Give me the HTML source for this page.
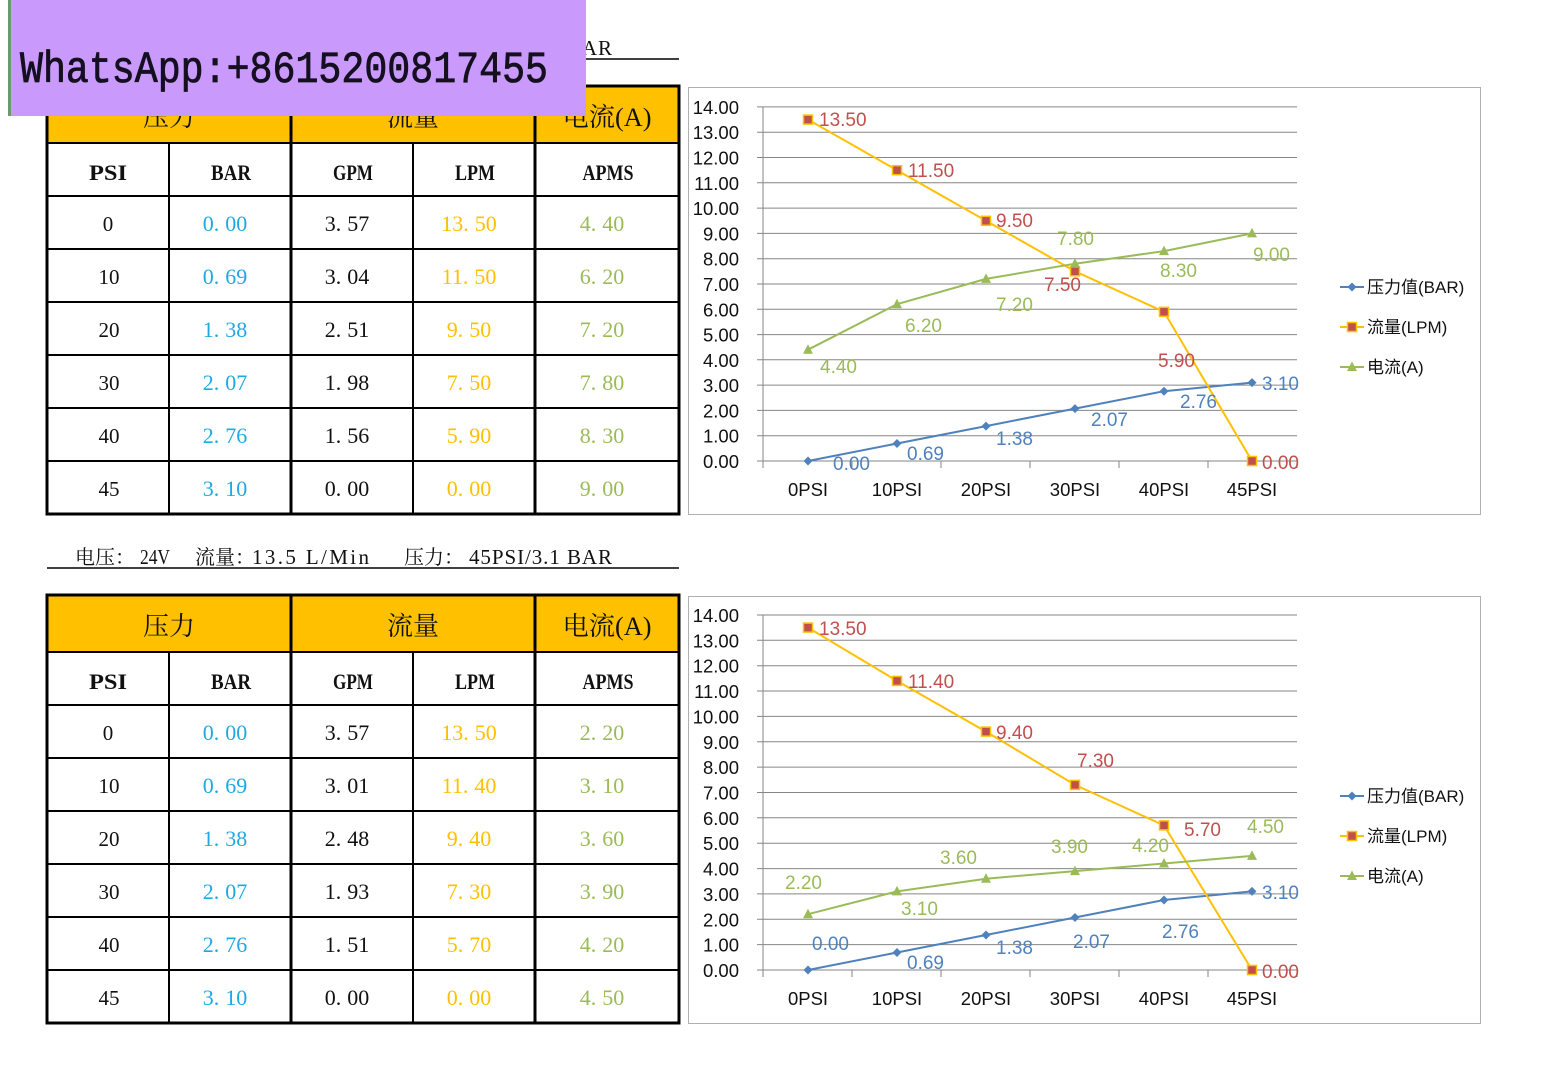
<!DOCTYPE html>
<html><head><meta charset="utf-8"><style>
html,body{margin:0;padding:0;background:#fff;}
svg{display:block;}
.t{font-family:"Liberation Serif","Noto Serif CJK SC",serif;}
.s{font-family:"Liberation Sans","Noto Sans CJK SC",sans-serif;}
</style></head><body>
<svg width="1557" height="1065" viewBox="0 0 1557 1065" xmlns="http://www.w3.org/2000/svg">
<rect x="0" y="0" width="1557" height="1065" fill="#fff"/>

<!-- ===== Section 1 header line ===== -->
<g class="t" fill="#111">
<text x="75" y="55" font-size="20">电压：</text>
<text x="140" y="55" font-size="21" textLength="30" lengthAdjust="spacingAndGlyphs">24V</text>
<text x="195" y="55" font-size="20">流量：</text>
<text x="252" y="55" font-size="21" textLength="117" lengthAdjust="spacing">13.5 L/Min</text>
<text x="404" y="55" font-size="20">压力：</text>
<text x="469" y="55" font-size="21" textLength="143" lengthAdjust="spacing">45PSI/3.1 BAR</text>
</g>
<line x1="47" y1="59" x2="679" y2="59" stroke="#000" stroke-width="1.5"/>

<!-- ===== Table 1 ===== -->
<g class="t">
<rect x="47" y="86" width="632" height="57" fill="#ffc000"/>
<g stroke="#000" stroke-width="2">
<line x1="47" y1="143" x2="679" y2="143"/>
<line x1="47" y1="196" x2="679" y2="196"/>
<line x1="47" y1="249" x2="679" y2="249"/>
<line x1="47" y1="302" x2="679" y2="302"/>
<line x1="47" y1="355" x2="679" y2="355"/>
<line x1="47" y1="408" x2="679" y2="408"/>
<line x1="47" y1="461" x2="679" y2="461"/>
<line x1="169" y1="143" x2="169" y2="514"/>
<line x1="413" y1="143" x2="413" y2="514"/>
</g>
<g stroke="#000" stroke-width="3">
<line x1="291" y1="86" x2="291" y2="514"/>
<line x1="535" y1="86" x2="535" y2="514"/>
<rect x="47" y="86" width="632" height="428" fill="none"/>
</g>
<g font-size="26" text-anchor="middle" fill="#111">
<text x="169" y="126">压力</text>
<text x="413" y="126">流量</text>
<text x="607" y="126" textLength="89" lengthAdjust="spacingAndGlyphs">电流(A)</text>
</g>
<g font-size="22" font-weight="bold" text-anchor="middle" fill="#111">
<text x="108" y="180" textLength="38" lengthAdjust="spacingAndGlyphs">PSI</text>
<text x="231" y="180" textLength="40" lengthAdjust="spacingAndGlyphs">BAR</text>
<text x="353" y="180" textLength="40" lengthAdjust="spacingAndGlyphs">GPM</text>
<text x="475" y="180" textLength="40" lengthAdjust="spacingAndGlyphs">LPM</text>
<text x="608" y="180" textLength="51" lengthAdjust="spacingAndGlyphs">APMS</text>
</g>
<g font-size="22" text-anchor="middle">
<g fill="#111" font-size="21">
<text x="108" y="231">0</text><text x="109" y="284">10</text><text x="109" y="337">20</text><text x="109" y="390">30</text><text x="109" y="443">40</text><text x="109" y="496">45</text>
</g>
<g fill="#111">
<text x="347" y="231">3.<tspan dx="6">57</tspan></text><text x="347" y="284">3.<tspan dx="6">04</tspan></text><text x="347" y="337">2.<tspan dx="6">51</tspan></text><text x="347" y="390">1.<tspan dx="6">98</tspan></text><text x="347" y="443">1.<tspan dx="6">56</tspan></text><text x="347" y="496">0.<tspan dx="6">00</tspan></text>
</g>
<g fill="#1fa9e0">
<text x="225" y="231">0.<tspan dx="6">00</tspan></text><text x="225" y="284">0.<tspan dx="6">69</tspan></text><text x="225" y="337">1.<tspan dx="6">38</tspan></text><text x="225" y="390">2.<tspan dx="6">07</tspan></text><text x="225" y="443">2.<tspan dx="6">76</tspan></text><text x="225" y="496">3.<tspan dx="6">10</tspan></text>
</g>
<g fill="#ffc000">
<text x="469" y="231">13.<tspan dx="6">50</tspan></text><text x="469" y="284">11.<tspan dx="6">50</tspan></text><text x="469" y="337">9.<tspan dx="6">50</tspan></text><text x="469" y="390">7.<tspan dx="6">50</tspan></text><text x="469" y="443">5.<tspan dx="6">90</tspan></text><text x="469" y="496">0.<tspan dx="6">00</tspan></text>
</g>
<g fill="#9bbb59">
<text x="602" y="231">4.<tspan dx="6">40</tspan></text><text x="602" y="284">6.<tspan dx="6">20</tspan></text><text x="602" y="337">7.<tspan dx="6">20</tspan></text><text x="602" y="390">7.<tspan dx="6">80</tspan></text><text x="602" y="443">8.<tspan dx="6">30</tspan></text><text x="602" y="496">9.<tspan dx="6">00</tspan></text>
</g>
</g>
</g>

<!-- ===== Chart 1 ===== -->
<g class="s">
<rect x="688.5" y="87.5" width="792" height="427" fill="#fff" stroke="#b0b0b0" stroke-width="1"/>
<g stroke="#868686" stroke-width="1">
<line x1="757" y1="461" x2="1297" y2="461"/>
<line x1="757" y1="435.7" x2="1297" y2="435.7"/>
<line x1="757" y1="410.4" x2="1297" y2="410.4"/>
<line x1="757" y1="385.1" x2="1297" y2="385.1"/>
<line x1="757" y1="359.8" x2="1297" y2="359.8"/>
<line x1="757" y1="334.6" x2="1297" y2="334.6"/>
<line x1="757" y1="309.3" x2="1297" y2="309.3"/>
<line x1="757" y1="284" x2="1297" y2="284"/>
<line x1="757" y1="258.7" x2="1297" y2="258.7"/>
<line x1="757" y1="233.4" x2="1297" y2="233.4"/>
<line x1="757" y1="208.1" x2="1297" y2="208.1"/>
<line x1="757" y1="182.8" x2="1297" y2="182.8"/>
<line x1="757" y1="157.5" x2="1297" y2="157.5"/>
<line x1="757" y1="132.2" x2="1297" y2="132.2"/>
<line x1="757" y1="106.9" x2="1297" y2="106.9"/>
<line x1="763" y1="106.9" x2="763" y2="468"/>
<line x1="852" y1="461" x2="852" y2="468"/>
<line x1="941" y1="461" x2="941" y2="468"/>
<line x1="1030" y1="461" x2="1030" y2="468"/>
<line x1="1119" y1="461" x2="1119" y2="468"/>
<line x1="1208" y1="461" x2="1208" y2="468"/>
<line x1="1297" y1="461" x2="1297" y2="468"/>
</g>
<g font-size="18.5" text-anchor="end" fill="#111">
<text x="739" y="468">0.00</text><text x="739" y="442.7">1.00</text><text x="739" y="417.4">2.00</text><text x="739" y="392.1">3.00</text><text x="739" y="366.8">4.00</text><text x="739" y="341.6">5.00</text><text x="739" y="316.3">6.00</text><text x="739" y="291">7.00</text><text x="739" y="265.7">8.00</text><text x="739" y="240.4">9.00</text><text x="739" y="215.1">10.00</text><text x="739" y="189.8">11.00</text><text x="739" y="164.5">12.00</text><text x="739" y="139.2">13.00</text><text x="739" y="113.9">14.00</text>
</g>
<g font-size="18.5" text-anchor="middle" fill="#111">
<text x="808" y="496">0PSI</text><text x="897" y="496">10PSI</text><text x="986" y="496">20PSI</text><text x="1075" y="496">30PSI</text><text x="1164" y="496">40PSI</text><text x="1252" y="496">45PSI</text>
</g>
<polyline points="808,461 897,443.5 986,426.1 1075,408.6 1164,391.2 1252,382.6" fill="none" stroke="#4f81bd" stroke-width="2"/>
<polyline points="808,119.6 897,170.2 986,220.8 1075,271.3 1164,311.8 1252,461" fill="none" stroke="#ffc000" stroke-width="2"/>
<polyline points="808,349.7 897,304.2 986,278.9 1075,263.7 1164,251.1 1252,233.4" fill="none" stroke="#9bbb59" stroke-width="2"/>
<g fill="#4f81bd">
<polygon points="808,456.5 812.5,461 808,465.5 803.5,461"/>
<polygon points="897,439 901.5,443.5 897,448 892.5,443.5"/>
<polygon points="986,421.6 990.5,426.1 986,430.6 981.5,426.1"/>
<polygon points="1075,404.1 1079.5,408.6 1075,413.1 1070.5,408.6"/>
<polygon points="1164,386.7 1168.5,391.2 1164,395.7 1159.5,391.2"/>
<polygon points="1252,378.1 1256.5,382.6 1252,387.1 1247.5,382.6"/>
</g>
<g fill="#c0504d" stroke="#ffc000" stroke-width="1.5">
<rect x="803.5" y="115.1" width="9" height="9"/>
<rect x="892.5" y="165.7" width="9" height="9"/>
<rect x="981.5" y="216.3" width="9" height="9"/>
<rect x="1070.5" y="266.8" width="9" height="9"/>
<rect x="1159.5" y="307.3" width="9" height="9"/>
<rect x="1247.5" y="456.5" width="9" height="9"/>
</g>
<g fill="#9bbb59">
<polygon points="808,344.2 813,353.7 803,353.7"/>
<polygon points="897,298.7 902,308.2 892,308.2"/>
<polygon points="986,273.4 991,282.9 981,282.9"/>
<polygon points="1075,258.2 1080,267.7 1070,267.7"/>
<polygon points="1164,245.6 1169,255.1 1159,255.1"/>
<polygon points="1252,227.9 1257,237.4 1247,237.4"/>
</g>
<g font-size="19">
<g fill="#c0504d">
<text x="819" y="126">13.50</text><text x="908" y="177">11.50</text><text x="996" y="227">9.50</text><text x="1044" y="291">7.50</text><text x="1158" y="367">5.90</text><text x="1262" y="469">0.00</text>
</g>
<g fill="#9bbb59">
<text x="820" y="373">4.40</text><text x="905" y="332">6.20</text><text x="996" y="311">7.20</text><text x="1057" y="245">7.80</text><text x="1160" y="277">8.30</text><text x="1253" y="261">9.00</text>
</g>
<g fill="#4f81bd">
<text x="833" y="470">0.00</text><text x="907" y="460">0.69</text><text x="996" y="445">1.38</text><text x="1091" y="426">2.07</text><text x="1180" y="408">2.76</text><text x="1262" y="390">3.10</text>
</g>
</g>
<g font-size="17" fill="#111">
<line x1="1340" y1="287" x2="1364" y2="287" stroke="#4f81bd" stroke-width="2"/>
<polygon points="1352,282.5 1356.5,287 1352,291.5 1347.5,287" fill="#4f81bd"/>
<text x="1367" y="293">压力值(BAR)</text>
<line x1="1340" y1="327" x2="1364" y2="327" stroke="#ffc000" stroke-width="2"/>
<rect x="1347.5" y="322.5" width="9" height="9" fill="#c0504d" stroke="#ffc000" stroke-width="1.5"/>
<text x="1367" y="333">流量(LPM)</text>
<line x1="1340" y1="367" x2="1364" y2="367" stroke="#9bbb59" stroke-width="2"/>
<polygon points="1352,361.5 1357,371 1347,371" fill="#9bbb59"/>
<text x="1367" y="373">电流(A)</text>
</g>
</g>

<!-- ===== Section 2 header line ===== -->
<g class="t" fill="#111">
<text x="75" y="564" font-size="20">电压：</text>
<text x="140" y="564" font-size="21" textLength="30" lengthAdjust="spacingAndGlyphs">24V</text>
<text x="195" y="564" font-size="20">流量：</text>
<text x="252" y="564" font-size="21" textLength="117" lengthAdjust="spacing">13.5 L/Min</text>
<text x="404" y="564" font-size="20">压力：</text>
<text x="469" y="564" font-size="21" textLength="143" lengthAdjust="spacing">45PSI/3.1 BAR</text>
</g>
<line x1="47" y1="568" x2="679" y2="568" stroke="#000" stroke-width="1.5"/>

<!-- ===== Table 2 ===== -->
<g class="t">
<rect x="47" y="595" width="632" height="57" fill="#ffc000"/>
<g stroke="#000" stroke-width="2">
<line x1="47" y1="652" x2="679" y2="652"/>
<line x1="47" y1="705" x2="679" y2="705"/>
<line x1="47" y1="758" x2="679" y2="758"/>
<line x1="47" y1="811" x2="679" y2="811"/>
<line x1="47" y1="864" x2="679" y2="864"/>
<line x1="47" y1="917" x2="679" y2="917"/>
<line x1="47" y1="970" x2="679" y2="970"/>
<line x1="169" y1="652" x2="169" y2="1023"/>
<line x1="413" y1="652" x2="413" y2="1023"/>
</g>
<g stroke="#000" stroke-width="3">
<line x1="291" y1="595" x2="291" y2="1023"/>
<line x1="535" y1="595" x2="535" y2="1023"/>
<rect x="47" y="595" width="632" height="428" fill="none"/>
</g>
<g font-size="26" text-anchor="middle" fill="#111">
<text x="169" y="635">压力</text>
<text x="413" y="635">流量</text>
<text x="607" y="635" textLength="89" lengthAdjust="spacingAndGlyphs">电流(A)</text>
</g>
<g font-size="22" font-weight="bold" text-anchor="middle" fill="#111">
<text x="108" y="689" textLength="38" lengthAdjust="spacingAndGlyphs">PSI</text>
<text x="231" y="689" textLength="40" lengthAdjust="spacingAndGlyphs">BAR</text>
<text x="353" y="689" textLength="40" lengthAdjust="spacingAndGlyphs">GPM</text>
<text x="475" y="689" textLength="40" lengthAdjust="spacingAndGlyphs">LPM</text>
<text x="608" y="689" textLength="51" lengthAdjust="spacingAndGlyphs">APMS</text>
</g>
<g font-size="22" text-anchor="middle">
<g fill="#111" font-size="21">
<text x="108" y="740">0</text><text x="109" y="793">10</text><text x="109" y="846">20</text><text x="109" y="899">30</text><text x="109" y="952">40</text><text x="109" y="1005">45</text>
</g>
<g fill="#111">
<text x="347" y="740">3.<tspan dx="6">57</tspan></text><text x="347" y="793">3.<tspan dx="6">01</tspan></text><text x="347" y="846">2.<tspan dx="6">48</tspan></text><text x="347" y="899">1.<tspan dx="6">93</tspan></text><text x="347" y="952">1.<tspan dx="6">51</tspan></text><text x="347" y="1005">0.<tspan dx="6">00</tspan></text>
</g>
<g fill="#1fa9e0">
<text x="225" y="740">0.<tspan dx="6">00</tspan></text><text x="225" y="793">0.<tspan dx="6">69</tspan></text><text x="225" y="846">1.<tspan dx="6">38</tspan></text><text x="225" y="899">2.<tspan dx="6">07</tspan></text><text x="225" y="952">2.<tspan dx="6">76</tspan></text><text x="225" y="1005">3.<tspan dx="6">10</tspan></text>
</g>
<g fill="#ffc000">
<text x="469" y="740">13.<tspan dx="6">50</tspan></text><text x="469" y="793">11.<tspan dx="6">40</tspan></text><text x="469" y="846">9.<tspan dx="6">40</tspan></text><text x="469" y="899">7.<tspan dx="6">30</tspan></text><text x="469" y="952">5.<tspan dx="6">70</tspan></text><text x="469" y="1005">0.<tspan dx="6">00</tspan></text>
</g>
<g fill="#9bbb59">
<text x="602" y="740">2.<tspan dx="6">20</tspan></text><text x="602" y="793">3.<tspan dx="6">10</tspan></text><text x="602" y="846">3.<tspan dx="6">60</tspan></text><text x="602" y="899">3.<tspan dx="6">90</tspan></text><text x="602" y="952">4.<tspan dx="6">20</tspan></text><text x="602" y="1005">4.<tspan dx="6">50</tspan></text>
</g>
</g>
</g>

<!-- ===== Chart 2 ===== -->
<g class="s">
<rect x="688.5" y="596.5" width="792" height="427" fill="#fff" stroke="#b0b0b0" stroke-width="1"/>
<g stroke="#868686" stroke-width="1">
<line x1="757" y1="970" x2="1297" y2="970"/>
<line x1="757" y1="944.6" x2="1297" y2="944.6"/>
<line x1="757" y1="919.3" x2="1297" y2="919.3"/>
<line x1="757" y1="893.9" x2="1297" y2="893.9"/>
<line x1="757" y1="868.6" x2="1297" y2="868.6"/>
<line x1="757" y1="843.2" x2="1297" y2="843.2"/>
<line x1="757" y1="817.8" x2="1297" y2="817.8"/>
<line x1="757" y1="792.5" x2="1297" y2="792.5"/>
<line x1="757" y1="767.1" x2="1297" y2="767.1"/>
<line x1="757" y1="741.8" x2="1297" y2="741.8"/>
<line x1="757" y1="716.4" x2="1297" y2="716.4"/>
<line x1="757" y1="691" x2="1297" y2="691"/>
<line x1="757" y1="665.7" x2="1297" y2="665.7"/>
<line x1="757" y1="640.3" x2="1297" y2="640.3"/>
<line x1="757" y1="615" x2="1297" y2="615"/>
<line x1="763" y1="615" x2="763" y2="977"/>
<line x1="852" y1="970" x2="852" y2="977"/>
<line x1="941" y1="970" x2="941" y2="977"/>
<line x1="1030" y1="970" x2="1030" y2="977"/>
<line x1="1119" y1="970" x2="1119" y2="977"/>
<line x1="1208" y1="970" x2="1208" y2="977"/>
<line x1="1297" y1="970" x2="1297" y2="977"/>
</g>
<g font-size="18.5" text-anchor="end" fill="#111">
<text x="739" y="977">0.00</text><text x="739" y="951.6">1.00</text><text x="739" y="926.3">2.00</text><text x="739" y="900.9">3.00</text><text x="739" y="875.6">4.00</text><text x="739" y="850.2">5.00</text><text x="739" y="824.8">6.00</text><text x="739" y="799.5">7.00</text><text x="739" y="774.1">8.00</text><text x="739" y="748.8">9.00</text><text x="739" y="723.4">10.00</text><text x="739" y="698">11.00</text><text x="739" y="672.7">12.00</text><text x="739" y="647.3">13.00</text><text x="739" y="622">14.00</text>
</g>
<g font-size="18.5" text-anchor="middle" fill="#111">
<text x="808" y="1005">0PSI</text><text x="897" y="1005">10PSI</text><text x="986" y="1005">20PSI</text><text x="1075" y="1005">30PSI</text><text x="1164" y="1005">40PSI</text><text x="1252" y="1005">45PSI</text>
</g>
<polyline points="808,970 897,952.5 986,935 1075,917.5 1164,900 1252,891.4" fill="none" stroke="#4f81bd" stroke-width="2"/>
<polyline points="808,627.6 897,680.9 986,731.6 1075,784.9 1164,825.4 1252,970" fill="none" stroke="#ffc000" stroke-width="2"/>
<polyline points="808,914.2 897,891.4 986,878.7 1075,871.1 1164,863.5 1252,855.9" fill="none" stroke="#9bbb59" stroke-width="2"/>
<g fill="#4f81bd">
<polygon points="808,965.5 812.5,970 808,974.5 803.5,970"/>
<polygon points="897,948 901.5,952.5 897,957 892.5,952.5"/>
<polygon points="986,930.5 990.5,935 986,939.5 981.5,935"/>
<polygon points="1075,913 1079.5,917.5 1075,922 1070.5,917.5"/>
<polygon points="1164,895.5 1168.5,900 1164,904.5 1159.5,900"/>
<polygon points="1252,886.9 1256.5,891.4 1252,895.9 1247.5,891.4"/>
</g>
<g fill="#c0504d" stroke="#ffc000" stroke-width="1.5">
<rect x="803.5" y="623.1" width="9" height="9"/>
<rect x="892.5" y="676.4" width="9" height="9"/>
<rect x="981.5" y="727.1" width="9" height="9"/>
<rect x="1070.5" y="780.4" width="9" height="9"/>
<rect x="1159.5" y="820.9" width="9" height="9"/>
<rect x="1247.5" y="965.5" width="9" height="9"/>
</g>
<g fill="#9bbb59">
<polygon points="808,908.7 813,918.2 803,918.2"/>
<polygon points="897,885.9 902,895.4 892,895.4"/>
<polygon points="986,873.2 991,882.7 981,882.7"/>
<polygon points="1075,865.6 1080,875.1 1070,875.1"/>
<polygon points="1164,858 1169,867.5 1159,867.5"/>
<polygon points="1252,850.4 1257,859.9 1247,859.9"/>
</g>
<g font-size="19">
<g fill="#c0504d">
<text x="819" y="635">13.50</text><text x="908" y="688">11.40</text><text x="996" y="739">9.40</text><text x="1077" y="767">7.30</text><text x="1184" y="836">5.70</text><text x="1262" y="978">0.00</text>
</g>
<g fill="#9bbb59">
<text x="785" y="889">2.20</text><text x="901" y="915">3.10</text><text x="940" y="864">3.60</text><text x="1051" y="853">3.90</text><text x="1132" y="852">4.20</text><text x="1247" y="833">4.50</text>
</g>
<g fill="#4f81bd">
<text x="812" y="950">0.00</text><text x="907" y="969">0.69</text><text x="996" y="954">1.38</text><text x="1073" y="948">2.07</text><text x="1162" y="938">2.76</text><text x="1262" y="899">3.10</text>
</g>
</g>
<g font-size="17" fill="#111">
<line x1="1340" y1="796" x2="1364" y2="796" stroke="#4f81bd" stroke-width="2"/>
<polygon points="1352,791.5 1356.5,796 1352,800.5 1347.5,796" fill="#4f81bd"/>
<text x="1367" y="802">压力值(BAR)</text>
<line x1="1340" y1="836" x2="1364" y2="836" stroke="#ffc000" stroke-width="2"/>
<rect x="1347.5" y="831.5" width="9" height="9" fill="#c0504d" stroke="#ffc000" stroke-width="1.5"/>
<text x="1367" y="842">流量(LPM)</text>
<line x1="1340" y1="876" x2="1364" y2="876" stroke="#9bbb59" stroke-width="2"/>
<polygon points="1352,870.5 1357,880 1347,880" fill="#9bbb59"/>
<text x="1367" y="882">电流(A)</text>
</g>
</g>

<!-- ===== Overlay banner ===== -->
<rect x="8" y="0" width="578" height="116" fill="#c999fb"/>
<rect x="8" y="0" width="3" height="116" fill="#6a9a6a"/>
<text transform="scale(1,1.18)" x="20" y="69.5" font-family="'Liberation Mono',monospace" font-size="38" textLength="528" lengthAdjust="spacingAndGlyphs" fill="#151020" stroke="#151020" stroke-width="0.7">WhatsApp:+8615200817455</text>
</svg>
</body></html>
